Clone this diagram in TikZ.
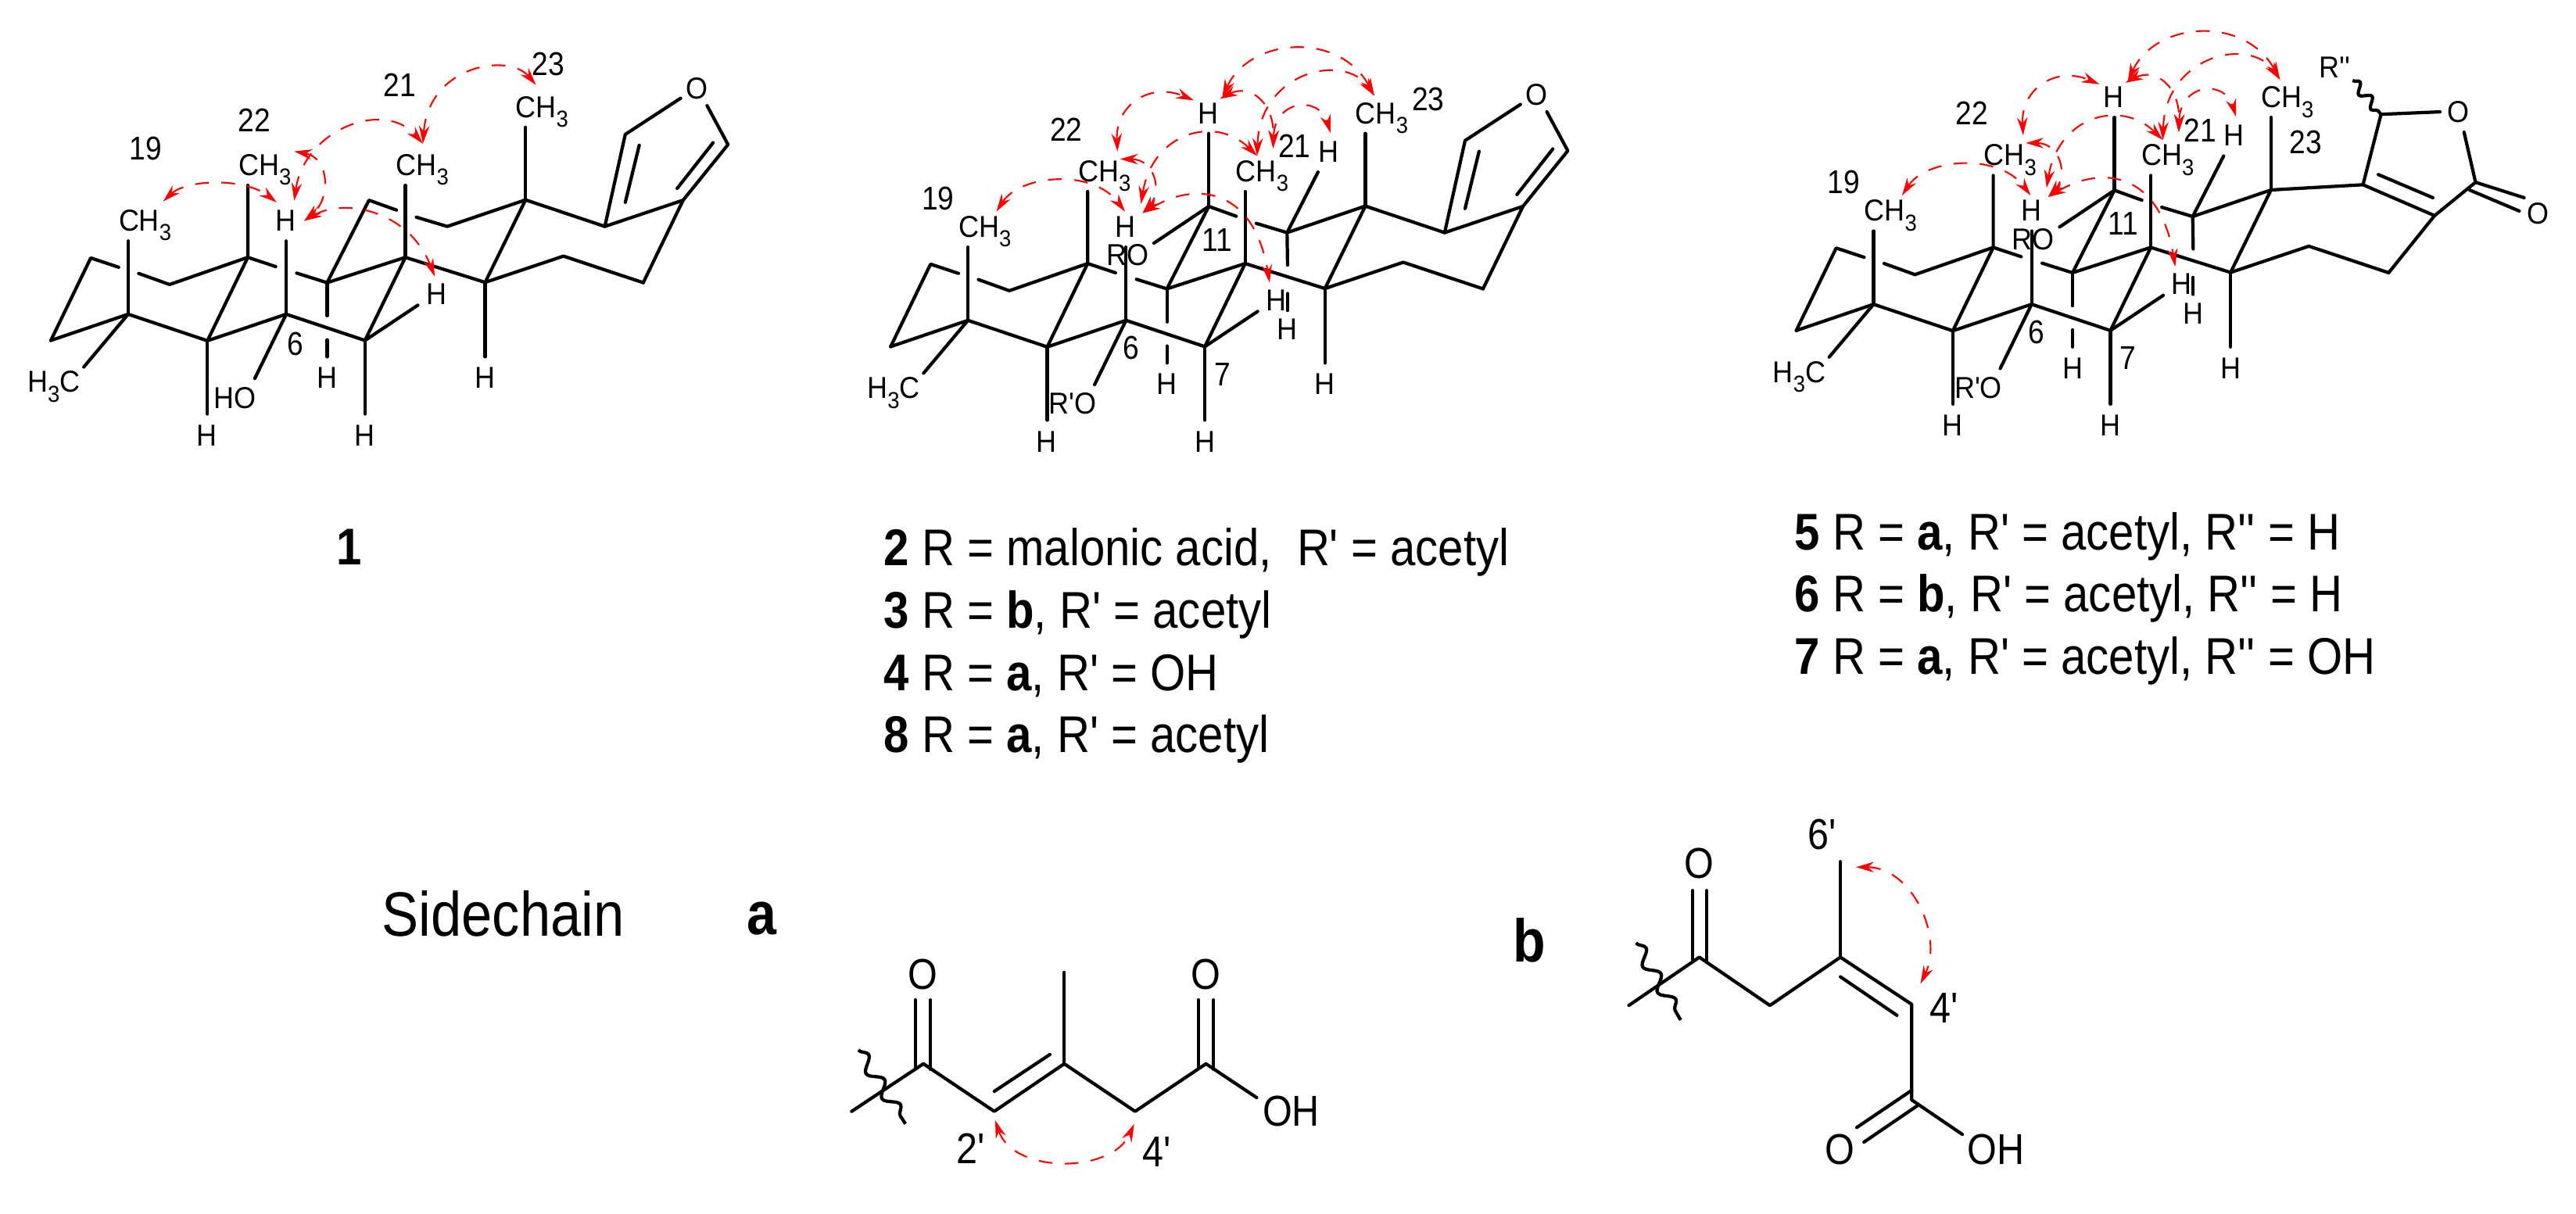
\documentclass[tikz,border=0pt]{standalone}
\usepackage{fontspec}
\usetikzlibrary{arrows.meta,decorations.pathmorphing}
\newfontfamily\arialx{Liberation Sans}[FakeStretch=0.88]
\newfontfamily\arialy{Liberation Sans}[FakeStretch=0.93]
\newcommand\subn[1]{\raisebox{-3.6pt}{\fontsize{8.4}{8.4}\selectfont #1}}
\tikzset{
  bond/.style={line width=1.2pt,line cap=round,line join=round},
  noe/.style={red,line width=.6pt,dash pattern=on 5pt off 4.5pt,{Stealth[length=6.5pt,width=3.8pt]}-{Stealth[length=6.5pt,width=3.8pt]}},
  atom/.style={font=\arialy\fontsize{11}{12}\selectfont,inner sep=0pt,text height=7.9pt,text depth=0pt},
  num/.style={font=\arialx\fontsize{12}{13}\selectfont,inner sep=0pt,text height=8.6pt,text depth=0pt},
  sideatom/.style={font=\arialx\fontsize{15.7}{17}\selectfont,inner sep=0pt,text height=11.3pt,text depth=0pt},
  capt/.style={font=\arialx\fontsize{18.8}{20}\selectfont,inner sep=0pt,anchor=base west},
  biglab/.style={font=\arialx\fontsize{22.8}{24}\selectfont,inner sep=0pt,anchor=base west},
  boldlab/.style={font=\arialx\bfseries\fontsize{22}{24}\selectfont,inner sep=0pt,anchor=base},
  wavy/.style={line width=1.2pt,decorate,decoration={snake,amplitude=.8mm,segment length=3.8mm}},
  frame1/.style={x=0.006378cm,y=-0.003953cm},
  frame3/.style={x=0.006983cm,y=-0.003953cm},
  frame4/.style={x=0.005741cm,y=-0.003201cm},
  frame5/.style={x=0.005102cm,y=-0.003521cm},
}
% common skeleton of all three aglycones, in the coordinates of crop 1
\newcommand\skel[1]{%
  \coordinate (#1a) at (102,1102); \coordinate (#1b) at (182,835);
  \coordinate (#1b1) at (238,865); \coordinate (#1d1) at (278,885);
  \coordinate (#1d) at (340,921); \coordinate (#1e) at (497,833);
  \coordinate (#1e1) at (553,863); \coordinate (#1f1) at (595,884);
  \coordinate (#1f) at (656,915); \coordinate (#1g) at (813,833);
  \coordinate (#1h) at (973,914); \coordinate (#1i) at (1130,829);
  \coordinate (#1j) at (1290,915); \coordinate (#1m) at (1054,647);
  \coordinate (#1n) at (897,733); \coordinate (#1n1) at (835,703);
  \coordinate (#1o1) at (795,680); \coordinate (#1o) at (740,648);
  \coordinate (#1p) at (257,1017); \coordinate (#1q) at (416,1103);
  \coordinate (#1r) at (574,1017); \coordinate (#1s) at (732,1102);
  \coordinate (#1pu) at (257,780); \coordinate (#1eu) at (497,600);
  \coordinate (#1gu) at (813,600); \coordinate (#1mu) at (1054,412);
  \coordinate (#1pd) at (168,1188); \coordinate (#1qd) at (416,1340);
  \coordinate (#1ru) at (574,780); \coordinate (#1sd) at (732,1340);
  \coordinate (#1hd) at (973,1155); \coordinate (#1fa) at (656,1022);
  \coordinate (#1fb) at (656,1100); \coordinate (#1fc) at (656,1155);
  \coordinate (#1rd) at (511,1225); \coordinate (#1se) at (838,988);
  \draw[bond] (#1a)--(#1p)--(#1q)--(#1r)--(#1s)--(#1g);
  \draw[bond] (#1a)--(#1b)--(#1b1);
  \draw[bond] (#1d1)--(#1d)--(#1e)--(#1e1);
  \draw[bond] (#1f1)--(#1f)--(#1g)--(#1h)--(#1i)--(#1j);
  \draw[bond] (#1n1)--(#1n)--(#1m)--(#1h);
  \draw[bond] (#1o1)--(#1o)--(#1f);
  \draw[bond] (#1q)--(#1e)--(#1eu);
  \draw[bond] (#1p)--(#1pu); \draw[bond] (#1p)--(#1pd);
  \draw[bond] (#1g)--(#1gu); \draw[bond] (#1m)--(#1mu);
  \draw[bond] (#1q)--(#1qd); \draw[bond] (#1r)--(#1ru);
  \draw[bond] (#1s)--(#1sd); \draw[bond] (#1h)--(#1hd);
  \draw[bond] (#1f)--(#1fa); \draw[bond] (#1fb)--(#1fc);
  \draw[bond] (#1r)--(#1rd); \draw[bond] (#1s)--(#1se);
  \node[atom] (#1me19) at (291,712) {CH\subn{3}};
  \node[atom] (#1me22) at (531,532) {CH\subn{3}};
  \node[atom] (#1me21) at (847,532) {CH\subn{3}};
  \node[atom] (#1me23) at (1087,345) {CH\subn{3}};
  \node[atom] (#1meb) at (108,1235) {H\subn{3}C};
  \node[atom] (#1Hr) at (573,712) {H};
  \node[atom] (#1Hs) at (875,950) {H};
  \node[atom] (#1Hf) at (656,1222) {H};
  \node[atom] (#1Hh) at (973,1222) {H};
  \node[atom] (#1Hq) at (415,1408) {H};
  \node[atom] (#1Hsd) at (732,1408) {H};
}
% furan part shared by 1 and 2
\newcommand\furan[1]{%
  \coordinate (#1k) at (1370,648); \coordinate (#1l) at (1213,733);
  \coordinate (#1t) at (1254,435); \coordinate (#1t1) at (1365,318);
  \coordinate (#1t2) at (1418,342); \coordinate (#1v) at (1460,468);
  \coordinate (#1ia) at (1282,470); \coordinate (#1ib) at (1254,655);
  \coordinate (#1ic) at (1430,462); \coordinate (#1id) at (1358,610);
  \draw[bond] (#1j)--(#1k)--(#1l)--(#1m);
  \draw[bond] (#1l)--(#1t)--(#1t1);
  \draw[bond] (#1t2)--(#1v)--(#1k);
  \draw[bond] (#1ia)--(#1ib); \draw[bond] (#1ic)--(#1id);
  \node[atom] (#1ofur) at (1397,285) {O};
}
% substituents and NOE arrows shared by 2 and 5, in the coordinates of crop 2
\newcommand\sharedtwo[1]{%
  \begin{scope}[shift={(-38,-20)}]
  \coordinate (#1ou) at (778,432); \coordinate (#1oo) at (668,787);
  \coordinate (#1nu) at (997,557); \coordinate (#1nd1) at (936,858);
  \coordinate (#1nd2) at (936,950); \coordinate (#1nd3) at (936,1005);
  \draw[bond] (#1o)--(#1ou); \draw[bond] (#1o)--(#1oo);
  \draw[bond] (#1n)--(#1nu); \draw[bond] (#1n)--(#1nd1);
  \draw[bond] (#1nd2)--(#1nd3);
  \node[atom] (#1Ho) at (777,365) {H};
  \node[atom] (#1Hn) at (1018,490) {H};
  \node[atom] (#1Hnd) at (936,1065) {H};
  \node[atom] (#1RO) at (615,825) {RO};
  \node[atom] (#1RpO) at (505,1305) {R'O};
  \node[num] (#1n19) at (235,640) {19};
  \node[num] (#1n22) at (492,418) {22};
  \node[num] (#1n21) at (950,472) {21};
  \node[num] (#1n11) at (795,775) {11};
  \node[num] (#1n6) at (622,1125) {6};
  \node[num] (#1n7) at (805,1210) {7};
  \coordinate (#1A) at (352,685); \coordinate (#1B) at (610,685);
  \coordinate (#1C) at (642,660); \coordinate (#1D) at (875,505);
  \coordinate (#1E) at (600,515); \coordinate (#1F) at (645,690);
  \coordinate (#1G) at (900,915); \coordinate (#1I) at (595,490);
  \coordinate (#1J) at (748,325); \coordinate (#1K) at (800,320);
  \coordinate (#1L) at (907,480); \coordinate (#1M) at (1022,430);
  \coordinate (#1N) at (1110,310); \coordinate (#1Q) at (805,315);
  \draw[noe] (#1A) .. controls (400,565) and (545,545) .. (#1B);
  \draw[noe] (#1C) .. controls (665,430) and (790,370) .. (#1D);
  \draw[noe] (#1E) .. controls (670,515) and (685,620) .. (#1F);
  \draw[noe] (#1F) .. controls (760,580) and (870,620) .. (#1G);
  \draw[noe] (#1I) .. controls (590,340) and (660,265) .. (#1J);
  \draw[noe] (#1K) .. controls (860,270) and (910,330) .. (#1L);
  \draw[noe] (#1L) .. controls (910,320) and (1000,310) .. (#1M);
  \draw[noe] (#1D) .. controls (880,230) and (1050,170) .. (#1N);
  \draw[noe] (#1Q) .. controls (860,120) and (1040,100) .. (#1N);
  \end{scope}
}
\begin{document}
\begin{tikzpicture}
\useasboundingbox (0,0) rectangle (32.95,-15.52);
\fill[white] (0,0) rectangle (32.95,-15.52);

% ---------- compound 1
\begin{scope}[frame1]
  \skel{A}
  \furan{A}
  \node[atom] (AHO) at (471,1288) {HO};
  \node[num] (An19) at (292,478) {19};
  \node[num] (An22) at (510,388) {22};
  \node[num] (An21) at (802,273) {21};
  \node[num] (An23) at (1100,205) {23};
  \node[num] (An6) at (592,1113) {6};
  \coordinate (Aa) at (327,652); \coordinate (Ab) at (555,655);
  \coordinate (Ac) at (590,650); \coordinate (Ad) at (848,465);
  \coordinate (Ae) at (590,490); \coordinate (Af) at (610,715);
  \coordinate (Ag) at (872,895); \coordinate (Ah) at (1075,275);
  \draw[noe] (Aa) .. controls (375,580) and (490,575) .. (Ab);
  \draw[noe] (Ac) .. controls (610,420) and (770,320) .. (Ad);
  \draw[noe] (Ae) .. controls (660,510) and (665,640) .. (Af);
  \draw[noe] (Af) .. controls (690,640) and (820,680) .. (Ag);
  \draw[noe] (Ad) .. controls (860,210) and (1020,170) .. (Ah);
\end{scope}

% ---------- compound 2
\begin{scope}[frame1,shift={(10.742cm,-0.079cm)}]
  \skel{B}
  \furan{B}
  \sharedtwo{B}
  \begin{scope}[shift={(-38,-20)}]
    \node[num] (Bn23) at (1218,320) {23};
  \end{scope}
\end{scope}

% ---------- compound 5
\begin{scope}[frame1,shift={(22.326cm,0.127cm)}]
  \skel{C}
  \sharedtwo{C}
\end{scope}
\begin{scope}[frame3,shift={(22cm,0cm)}]
  \coordinate (Dk) at (1308,698); \coordinate (Dl) at (1177,598);
  \coordinate (Dt) at (1210,370); \coordinate (Dt1) at (1318,362);
  \coordinate (Dt2) at (1362,428); \coordinate (Dv) at (1383,590);
  \coordinate (Dia) at (1205,565); \coordinate (Dib) at (1305,640);
  \coordinate (Dca) at (1472,640); \coordinate (Dcb) at (1372,615);
  \coordinate (Dcc) at (1463,683); \coordinate (Dw) at (1158,260);
  \draw[bond] (Cj)--(Dk)--(Dl)--(Cm);
  \draw[bond] (Dl)--(Dt)--(Dt1);
  \draw[bond] (Dt2)--(Dv)--(Dk);
  \draw[bond] (Dia)--(Dib);
  \draw[bond] (Dv)--(Dca); \draw[bond] (Dcb)--(Dcc);
  \draw[wavy,decoration={segment length=2.4mm,amplitude=.6mm}] (Dw)--(Dt);
  \node[atom] (DO) at (1352,360) {O};
  \node[atom] (DOc) at (1498,690) {O};
  \node[atom] (DR) at (1125,217) {R''};
  \node[num] (Dn23) at (1072,460) {23};
\end{scope}

% ---------- captions
\node[capt] (c1) at (4.3,-7.22) {\bfseries 1};
\node[capt] (c2) at (11.3,-7.23) {\textbf{2} R = malonic acid,\ \ R' = acetyl};
\node[capt] (c3) at (11.3,-8.03) {\textbf{3} R = \textbf{b}, R' = acetyl};
\node[capt] (c4) at (11.3,-8.83) {\textbf{4} R = \textbf{a}, R' = OH};
\node[capt] (c8) at (11.3,-9.62) {\textbf{8} R = \textbf{a}, R' = acetyl};
\node[capt] (c5) at (22.95,-7.03) {\textbf{5} R = \textbf{a}, R' = acetyl, R'' = H};
\node[capt] (c6) at (22.95,-7.82) {\textbf{6} R = \textbf{b}, R' = acetyl, R'' = H};
\node[capt] (c7) at (22.95,-8.62) {\textbf{7} R = \textbf{a}, R' = acetyl, R'' = OH};
\node[biglab] (side) at (4.88,-11.97) {Sidechain};

% ---------- sidechain a
\begin{scope}[frame4,shift={(9cm,-10.5cm)}]
  \coordinate (Ea) at (330,1160); \coordinate (Eb) at (490,970);
  \coordinate (Ec) at (648,1160); \coordinate (Ed) at (804,970);
  \coordinate (Ee) at (962,1160); \coordinate (Ef) at (1120,970);
  \coordinate (Eg) at (1233,1105); \coordinate (Eh) at (804,605);
  \coordinate (Ei) at (648,1080); \coordinate (Ej) at (772,933);
  \coordinate (Ek) at (472,715); \coordinate (El) at (472,988);
  \coordinate (Em) at (506,715); \coordinate (En) at (506,992);
  \coordinate (Eo) at (1103,715); \coordinate (Ep) at (1103,988);
  \coordinate (Eq) at (1137,715); \coordinate (Er) at (1137,992);
  \coordinate (Es) at (345,915); \coordinate (Et) at (450,1210);
  \coordinate (Eu) at (650,1195); \coordinate (Ev) at (960,1210);
  \draw[bond] (Ea)--(Eb)--(Ec)--(Ed)--(Ee)--(Ef)--(Eg);
  \draw[bond] (Ed)--(Eh); \draw[bond] (Ei)--(Ej);
  \draw[bond] (Ek)--(El); \draw[bond] (Em)--(En);
  \draw[bond] (Eo)--(Ep); \draw[bond] (Eq)--(Er);
  \draw[wavy] (Es)--(Et);
  \draw[noe] (Eu) .. controls (690,1410) and (910,1410) .. (Ev);
  \node[sideatom] (EO1) at (489,612) {O};
  \node[sideatom] (EO2) at (1119,612) {O};
  \node[sideatom] (EOH) at (1310,1158) {OH};
  \node[sideatom] (E2) at (595,1305) {2'};
  \node[sideatom] (E4) at (1010,1320) {4'};
  \node[boldlab] (Ela) at (130,455) {a};
\end{scope}

% ---------- sidechain b
\begin{scope}[frame5,shift={(19cm,-10cm)}]
  \coordinate (Fa) at (360,812); \coordinate (Fb) at (537,637);
  \coordinate (Fc) at (714,812); \coordinate (Fd) at (891,637);
  \coordinate (Fe) at (1070,808); \coordinate (Ff) at (1070,1155);
  \coordinate (Fg) at (1197,1280); \coordinate (Fh) at (891,290);
  \coordinate (Fi) at (891,708); \coordinate (Fj) at (1033,848);
  \coordinate (Fk) at (520,395); \coordinate (Fl) at (520,650);
  \coordinate (Fm) at (555,395); \coordinate (Fn) at (555,655);
  \coordinate (Fo) at (1070,1120); \coordinate (Fp) at (932,1255);
  \coordinate (Fq) at (1085,1175); \coordinate (Fr) at (950,1308);
  \coordinate (Fs) at (378,585); \coordinate (Ft) at (490,865);
  \coordinate (Fu) at (930,310); \coordinate (Fv) at (1092,733);
  \draw[bond] (Fa)--(Fb)--(Fc)--(Fd)--(Fe)--(Ff)--(Fg);
  \draw[bond] (Fd)--(Fh); \draw[bond] (Fi)--(Fj);
  \draw[bond] (Fk)--(Fl); \draw[bond] (Fm)--(Fn);
  \draw[bond] (Fo)--(Fp); \draw[bond] (Fq)--(Fr);
  \draw[wavy] (Fs)--(Ft);
  \draw[noe] (Fu) .. controls (1070,310) and (1150,560) .. (Fv);
  \node[sideatom] (FO1) at (537,295) {O};
  \node[sideatom] (FO2) at (890,1332) {O};
  \node[sideatom] (FOH) at (1282,1332) {OH};
  \node[sideatom] (F6) at (845,190) {6'};
  \node[sideatom] (F4) at (1152,820) {4'};
  \node[boldlab] (Flb) at (110,655) {b};
\end{scope}
\end{tikzpicture}
\end{document}
